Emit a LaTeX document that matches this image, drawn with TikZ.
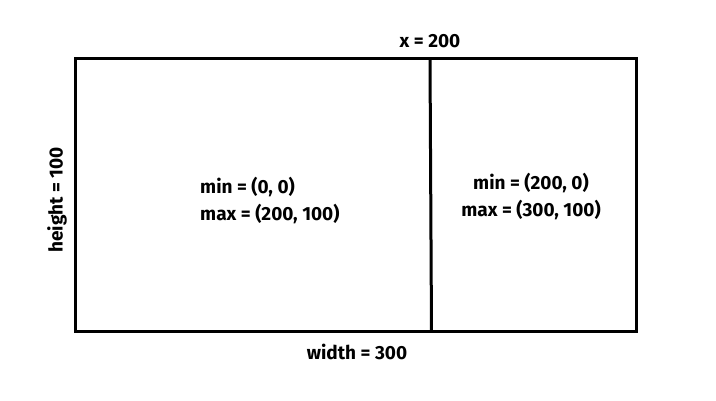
\documentclass[tikz,border=0pt]{standalone}
\usepackage{fontspec}
\setmainfont{Fira Sans}
\begin{document}
\begin{tikzpicture}[x=1pt,y=-1pt,font=\fontsize{19}{27}\selectfont\bfseries]
\tikzset{box/.style={line width=3pt}}
\useasboundingbox (0,0) rectangle (716,400);

\coordinate (nw) at (75,58);
\coordinate (se) at (636,331);
\coordinate (cuttop) at (430,58);
\coordinate (cutbot) at (431.5,331);

\draw[box] (nw) rectangle (se);
\draw[box] (cuttop) -- (cutbot);

\node (xlab) at (430,41) {x = 200};
\node (wlab) at (357,352) {width = 300};
\node[rotate=90] (hlab) at (57,200) {height = 100};

\node[align=left,anchor=west,inner sep=0pt] (leftbox) at (200,201) {min = (0, 0)\\max = (200, 100)};
\node[align=center] (rightbox) at (531,197) {min = (200, 0)\\max = (300, 100)};
\end{tikzpicture}
\end{document}
